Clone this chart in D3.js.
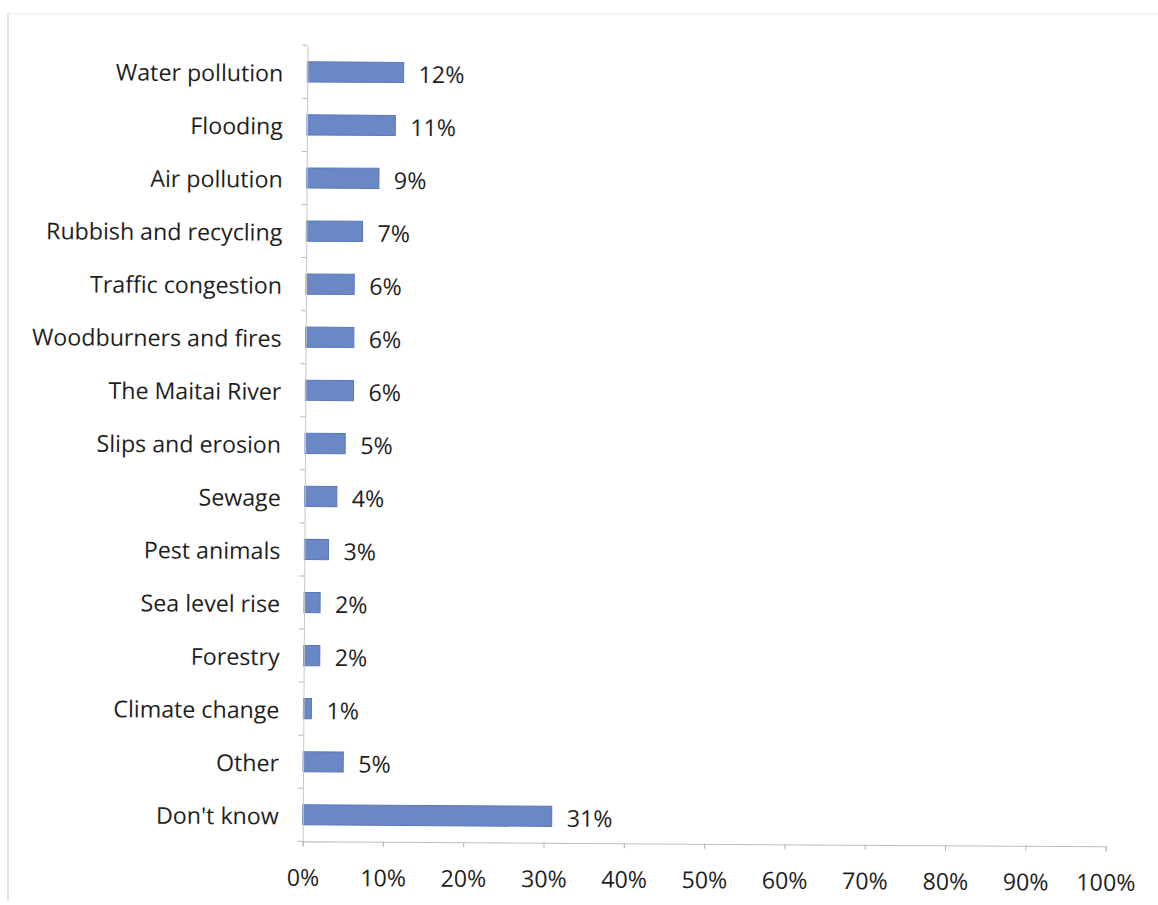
<!DOCTYPE html>
<html>
<head>
<meta charset="utf-8">
<script src="https://cdn.jsdelivr.net/npm/d3@7"></script>
<style>
  html, body { margin: 0; padding: 0; background: #fff; }
  svg { display: block; }
  text { font-family: "Open Sans", Lato, sans-serif; fill: #1e1e1e; font-variant-ligatures: none; }
</style>
</head>
<body>
<svg id="chart" width="1158" height="905"></svg>
<script>
// Environmental issues mentioned (share of respondents)
const categories = [
  "Water pollution", "Flooding", "Air pollution", "Rubbish and recycling",
  "Traffic congestion", "Woodburners and fires", "The Maitai River",
  "Slips and erosion", "Sewage", "Pest animals", "Sea level rise",
  "Forestry", "Climate change", "Other", "Don't know"
];
const values = [12, 11, 9, 7, 6, 6, 6, 5, 4, 3, 2, 2, 1, 5, 31];
const tickValues = [0, 10, 20, 30, 40, 50, 60, 70, 80, 90, 100];

const W = 1158, H = 905;
const margin = { left: 305, right: 50, top: 47, bottom: 62 };
const FONT = "'Open Sans', Lato, sans-serif";
const FS = 23.2;

const svg = d3.select("#chart");

// faint page border lines
svg.append("line").attr("x1", 8).attr("x2", 8).attr("y1", 14).attr("y2", 900)
  .attr("stroke", "#d8d8d8").attr("stroke-width", 1.5);
svg.append("line").attr("x1", 8).attr("x2", 1158).attr("y1", 14).attr("y2", 14)
  .attr("stroke", "#f0f0f0").attr("stroke-width", 1.5);

const g = svg.append("g")
  .attr("transform", `rotate(0.35 ${W / 2} ${H / 2})`);

const x = d3.scaleLinear().domain([0, 100]).range([margin.left, W - margin.right]);
const y = d3.scaleBand().domain(categories)
  .range([margin.top, H - margin.bottom]).paddingInner(0.62).paddingOuter(0.31);

// bars
g.selectAll("rect.bar").data(categories).join("rect")
  .attr("class", "bar")
  .attr("x", x(0))
  .attr("y", d => y(d))
  .attr("width", (d, i) => x(values[i]) - x(0))
  .attr("height", y.bandwidth())
  .attr("fill", "#6a88c6")
  .attr("stroke", "#5a78b8")
  .attr("stroke-width", 1);

// value labels
g.selectAll("text.val").data(categories).join("text")
  .attr("class", "val")
  .attr("x", (d, i) => x(values[i]) + 15)
  .attr("y", d => y(d) + y.bandwidth() / 2 + 2)
  .attr("dy", "0.36em")
  .attr("font-size", FS)
  .text((d, i) => values[i] + "%");

// category axis
const yAxis = d3.axisLeft(y).tickSize(0).tickPadding(24);
const ya = g.append("g").attr("transform", `translate(${x(0)},0)`).call(yAxis);
ya.select(".domain").attr("stroke", "#c8c8c8");
ya.selectAll("text").attr("font-size", FS).attr("fill", "#1e1e1e")
  .attr("dy", "0.42em").style("font-family", FONT);

// small tick marks between categories
const bounds = d3.range(categories.length + 1)
  .map(i => margin.top + i * ((H - margin.bottom - margin.top) / categories.length));
g.selectAll("line.ytick").data(bounds).join("line")
  .attr("class", "ytick")
  .attr("x1", x(0) - 5).attr("x2", x(0))
  .attr("y1", d => d).attr("y2", d => d)
  .attr("stroke", "#b8b8b8");

// value axis
const xAxis = d3.axisBottom(x).tickValues(tickValues)
  .tickFormat(d => d + "%").tickSize(5).tickPadding(23);
const xa = g.append("g").attr("transform", `translate(0,${H - margin.bottom})`).call(xAxis);
xa.select(".domain").attr("stroke", "#bdbdbd");
xa.selectAll(".tick line").attr("stroke", "#b0b0b0");
xa.selectAll("text").attr("font-size", FS).attr("fill", "#1e1e1e")
  .style("font-family", FONT);
</script>
</body>
</html>
